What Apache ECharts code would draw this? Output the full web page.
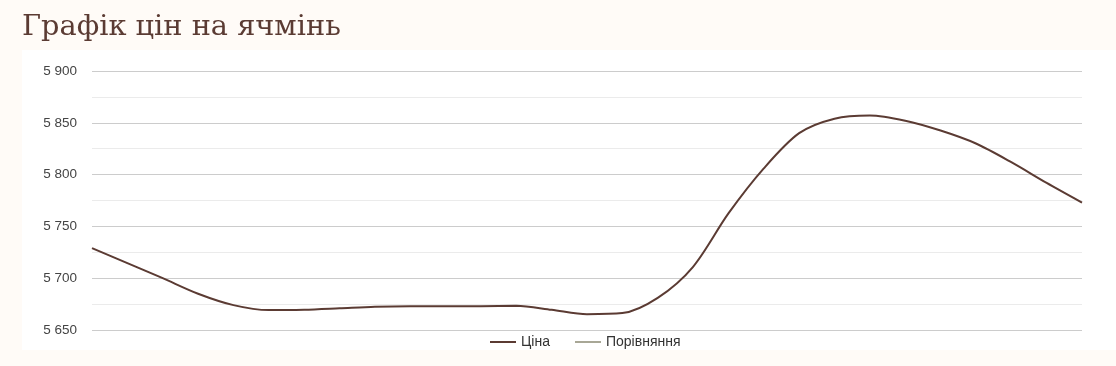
<!DOCTYPE html>
<html>
<head>
<meta charset="utf-8">
<script src="https://cdn.jsdelivr.net/npm/echarts@6/dist/echarts.min.js"></script>
<style>
html,body{margin:0;padding:0;background:#fffbf7;}
#c{width:1116px;height:366px;}
</style>
</head>
<body>
<div id="c"></div>
<script>
var titleText = 'Графік цін на ячмінь';
var categories = ['1','2','3','4','5','6','7','8','9','10','11','12','13','14','15','16','17','18','19','20','21','22','23','24','25','26','27','28','29'];
var priceValues = [5729, 5714.5, 5700, 5685, 5674, 5669.2, 5669.6, 5671, 5672.5, 5673, 5673, 5673, 5673.3, 5669.5, 5665.2, 5666.3, 5681, 5711, 5762.5, 5806, 5840, 5854, 5857, 5852, 5842.5, 5830, 5812, 5792, 5773];
var compareValues = [];
var seriesNames = ['Ціна', 'Порівняння'];

var chart = echarts.init(document.getElementById('c'), null, {renderer: 'canvas'});
chart.setOption({
  animation: false,
  backgroundColor: '#fffbf7',
  graphic: [{
    type: 'rect', z: -10, silent: true,
    shape: {x: 22, y: 50, width: 1094, height: 300},
    style: {fill: '#ffffff'}
  }],
  title: {
    text: titleText,
    left: 17, top: 8,
    textStyle: {fontFamily: 'DejaVu Serif', fontSize: 28.8, fontWeight: 'normal', color: '#5b3b33'}
  },
  legend: {
    bottom: 12, left: 485,
    itemWidth: 26, itemHeight: 2, itemGap: 25,
    icon: 'rect',
    textStyle: {fontFamily: 'Liberation Sans, Arial', fontSize: 14, color: '#333'},
    data: seriesNames
  },
  grid: {left: 92, right: 34, top: 71, bottom: 36},
  xAxis: {
    type: 'category', data: categories, boundaryGap: false,
    show: false
  },
  yAxis: {
    type: 'value', min: 5650, max: 5900, interval: 50,
    axisLine: {show: false}, axisTick: {show: false},
    axisLabel: {
      margin: 15, color: '#444', fontSize: 13.5, fontFamily: 'Liberation Sans, Arial',
      formatter: function(v){ return String(v).replace(/\B(?=(\d{3})+(?!\d))/g, ' '); }
    },
    splitLine: {lineStyle: {color: '#cccccc', width: 1}},
    minorTick: {show: false, splitNumber: 2},
    minorSplitLine: {show: true, lineStyle: {color: '#ebebeb', width: 1}}
  },
  series: [{
    name: seriesNames[0], type: 'line', data: priceValues,
    smooth: 0.3, showSymbol: false, symbol: 'none',
    lineStyle: {color: '#5b3b33', width: 2},
    itemStyle: {color: '#5b3b33'}
  }, {
    name: seriesNames[1], type: 'line', data: compareValues,
    showSymbol: false, symbol: 'none',
    lineStyle: {color: '#a8a796', width: 2},
    itemStyle: {color: '#a8a796'}
  }]
});
</script>
</body>
</html>
